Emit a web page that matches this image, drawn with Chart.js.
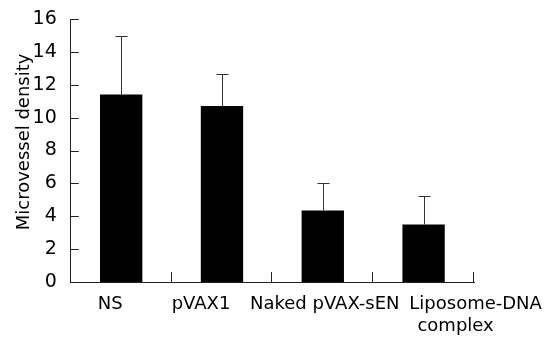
<!DOCTYPE html>
<html lang="en">
<head>
    <meta charset="UTF-8">
    <title>Microvessel density</title>
    <script src="https://cdn.jsdelivr.net/npm/chart.js"></script>
    <style>
        body {
            margin: 0;
            background-color: #ffffff;
        }

        .chart-container {
            width: 558px;
            height: 338px;
        }
    </style>
</head>
<body>
    <div class="chart-container">
        <canvas id="mvd-chart"></canvas>
    </div>

    <script>
        // 数据
        const groups = [['NS'], ['pVAX1'], ['Naked pVAX-sEN'], ['Liposome-DNA', 'complex']];
        const meanValues = [11.4, 10.7, 4.35, 3.5];
        const sdValues = [3.55, 1.95, 1.65, 1.75];
        const yTicks = [0, 2, 4, 6, 8, 10, 12, 14, 16];

        const FONT = '"DejaVu Sans", sans-serif';
        const FONT_SIZE = 18;
        const AXIS_COLOR = '#222222';

        // 标签相对分类中心的水平偏移 (px)
        const labelShift = [[-11], [-21], [2], [52, 32]];

        // 误差线、刻度线和 x 轴标签
        const decorPlugin = {
            id: 'decor',
            afterDatasetsDraw(chart) {
                const ctx = chart.ctx;
                const x = chart.scales.x;
                const y = chart.scales.y;
                const area = chart.chartArea;
                const meta = chart.getDatasetMeta(0);

                ctx.save();
                ctx.strokeStyle = '#333333';
                ctx.lineWidth = 1;

                // 误差线
                meta.data.forEach((bar, i) => {
                    const cx = Math.round(bar.x) + 0.5;
                    const top = y.getPixelForValue(meanValues[i] + sdValues[i]);
                    ctx.beginPath();
                    ctx.moveTo(cx, bar.y);
                    ctx.lineTo(cx, Math.round(top) + 0.5);
                    ctx.moveTo(cx - 6, Math.round(top) + 0.5);
                    ctx.lineTo(cx + 6, Math.round(top) + 0.5);
                    ctx.stroke();
                });

                // y 轴刻度 (向内)
                ctx.strokeStyle = AXIS_COLOR;
                yTicks.forEach(v => {
                    const py = Math.round(y.getPixelForValue(v)) + 0.5;
                    ctx.beginPath();
                    ctx.moveTo(area.left, py);
                    ctx.lineTo(area.left + 8, py);
                    ctx.stroke();
                });

                // x 轴分类边界刻度 (向上)
                const step = (area.right - area.left) / groups.length;
                for (let i = 1; i <= groups.length; i++) {
                    const px = Math.round(area.left + step * i) - 0.5;
                    ctx.beginPath();
                    ctx.moveTo(px, area.bottom);
                    ctx.lineTo(px, area.bottom - 10);
                    ctx.stroke();
                }

                // x 轴标签
                ctx.fillStyle = '#000000';
                ctx.font = FONT_SIZE + 'px ' + FONT;
                ctx.textAlign = 'center';
                ctx.textBaseline = 'middle';
                groups.forEach((lines, i) => {
                    const cx = x.getPixelForValue(i);
                    lines.forEach((text, j) => {
                        ctx.fillText(text, cx + labelShift[i][j], area.bottom + 22 + j * 22);
                    });
                });
                ctx.restore();
            }
        };

        const ctx = document.getElementById('mvd-chart').getContext('2d');
        new Chart(ctx, {
            type: 'bar',
            data: {
                labels: groups,
                datasets: [{
                    data: meanValues,
                    backgroundColor: '#000000',
                    borderWidth: 0,
                    categoryPercentage: 1.0,
                    barPercentage: 0.42
                }]
            },
            options: {
                responsive: true,
                maintainAspectRatio: false,
                animation: false,
                layout: {
                    padding: { left: 0, right: 84, top: 19, bottom: 48 }
                },
                plugins: {
                    legend: { display: false },
                    tooltip: { enabled: false }
                },
                scales: {
                    x: {
                        grid: { display: false },
                        border: { display: true, color: AXIS_COLOR, width: 1 },
                        ticks: { display: false }
                    },
                    y: {
                        min: 0,
                        max: 16,
                        afterBuildTicks(axis) {
                            axis.ticks = yTicks.map(v => ({ value: v }));
                        },
                        grid: { display: false },
                        border: { display: true, color: AXIS_COLOR, width: 1 },
                        ticks: {
                            padding: 6,
                            color: '#000000',
                            font: { family: FONT, size: FONT_SIZE + 1 }
                        },
                        title: {
                            display: true,
                            text: '   Microvessel density',
                            color: '#000000',
                            font: { family: FONT, size: FONT_SIZE },
                            padding: { top: 14, bottom: -9 }
                        }
                    }
                }
            },
            plugins: [decorPlugin]
        });
    </script>
</body>
</html>
